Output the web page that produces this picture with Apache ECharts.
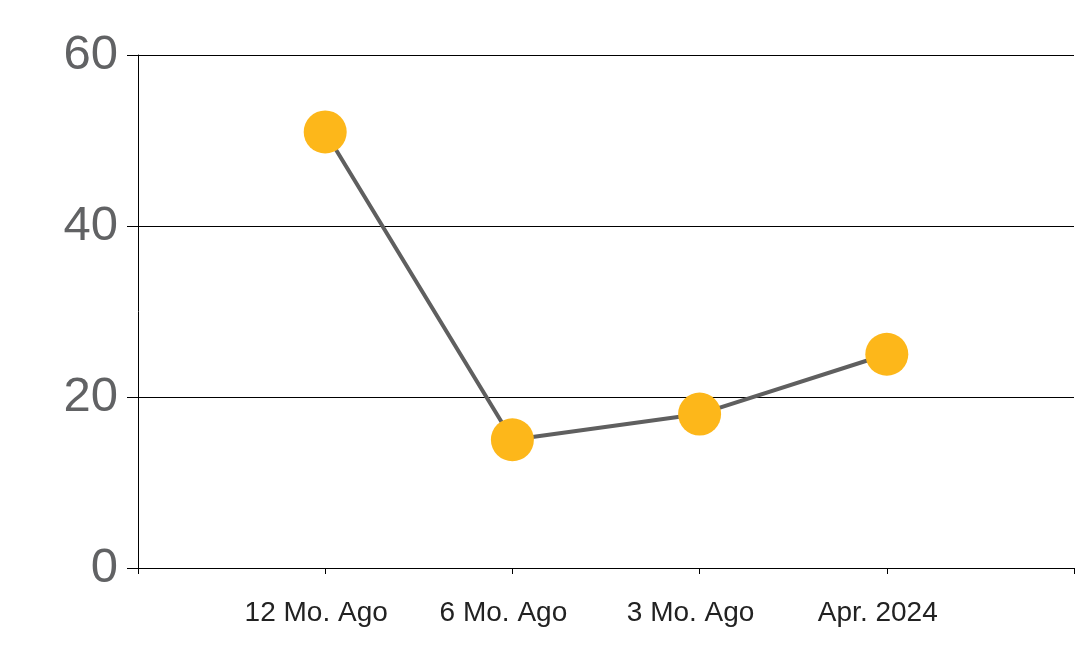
<!DOCTYPE html>
<html>
<head>
<meta charset="utf-8">
<script src="https://cdn.jsdelivr.net/npm/echarts@6/dist/echarts.min.js"></script>
<style>
html,body{margin:0;padding:0;background:#fff;}
#chart{width:1078px;height:663px;}
</style>
</head>
<body>
<div id="chart"></div>
<script>
const categories = ['', '12 Mo. Ago', '6 Mo. Ago', '3 Mo. Ago', 'Apr. 2024', ''];
const values = [null, 51, 15, 18, 25, null];
const yTicks = { min: 0, max: 60, interval: 20 };

const chart = echarts.init(document.getElementById('chart'), null, { renderer: 'canvas' });
chart.setOption({
  animation: false,
  backgroundColor: '#ffffff',
  grid: { left: 138, right: 4, top: 55, bottom: 95, containLabel: false },
  xAxis: {
    type: 'category',
    data: categories,
    boundaryGap: false,
    axisLine: { show: true, lineStyle: { color: '#000', width: 1 } },
    axisTick: { show: true, length: 6, alignWithLabel: true, lineStyle: { color: '#000' }, interval: 0 },
    axisLabel: { interval: 0, margin: 31, padding: [0, 18, 0, 0], fontFamily: 'Liberation Sans, Arial, sans-serif', fontSize: 28, color: '#222222' },
    splitLine: { show: false }
  },
  yAxis: {
    type: 'value',
    min: yTicks.min, max: yTicks.max, interval: yTicks.interval,
    axisLine: { show: true, lineStyle: { color: '#000', width: 1 } },
    axisTick: { show: true, length: 11, lineStyle: { color: '#000' } },
    axisLabel: { margin: 20, fontFamily: 'Liberation Sans, Arial, sans-serif', fontSize: 49, color: '#616264' },
    splitLine: { show: true, lineStyle: { color: '#000', width: 1 } }
  },
  series: [{
    type: 'line',
    data: values,
    connectNulls: false,
    symbol: 'circle',
    symbolSize: 43,
    itemStyle: { color: '#FDB71A', borderWidth: 0 },
    lineStyle: { color: '#5f5f5f', width: 4 },
    z: 3
  }]
});
</script>
</body>
</html>
